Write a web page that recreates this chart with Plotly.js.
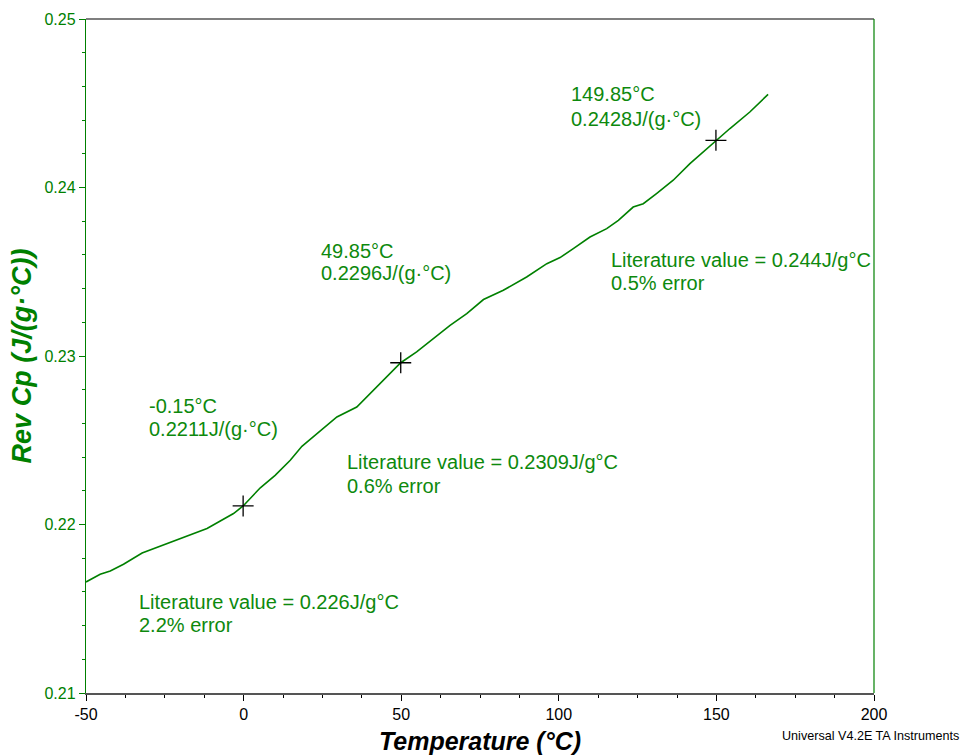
<!DOCTYPE html>
<html>
<head>
<meta charset="utf-8">
<script src="https://cdn.plot.ly/plotly-3.0.1.min.js"></script>
<style>html,body{margin:0;padding:0;background:#fff;}#chart{width:961px;height:755px;}</style>
</head>
<body>
<div id="chart"></div>
<script>
// Reversing heat capacity curve
const tempC = [-50, -45.5, -42.3, -38.1, -32.2, -27.5, -23.3, -19.1, -15.9, -11.6, -7.4, -3.2, -0.15,
  5.3, 10.0, 14.8, 18.5, 23.2, 29.6, 35.9, 39.1, 43.3, 49.85, 54.9, 60.2, 65.5, 70.8, 76.1, 82.4,
  89.8, 96.2, 100.4, 104.6, 109.9, 115.2, 118.9, 123.6, 126.8, 131.0, 136.3, 141.6, 145.8, 149.85,
  154.3, 160.6, 166.4];
const revCp = [0.21659, 0.21705, 0.21724, 0.21764, 0.21831, 0.21863, 0.21896, 0.21922, 0.21946, 0.21976, 0.22021, 0.22065, 0.2211,
  0.22218, 0.22292, 0.22381, 0.22464, 0.22539, 0.22638, 0.22697, 0.22757, 0.22836, 0.2296, 0.23024, 0.23103, 0.23182, 0.23252, 0.23335, 0.23390,
  0.23469, 0.23548, 0.23584, 0.23637, 0.23706, 0.23756, 0.23805, 0.23884, 0.23904, 0.23964, 0.24043, 0.24142, 0.24211, 0.2428,
  0.24350, 0.24448, 0.24553];

// Analysis points
const markT = [-0.15, 49.85, 149.85];
const markCp = [0.2211, 0.2296, 0.2428];

// Tick labels
const xTickVals = [-50, 0, 50, 100, 150, 200];
const xTickText = ["-50", "0", "50", "100", "150", "200"];

// Annotation texts
const pointLabels = ["-0.15°C", "0.2211J/(g·°C)", "49.85°C", "0.2296J/(g·°C)", "149.85°C", "0.2428J/(g·°C)"];
const litLabels = ["Literature value = 0.226J/g°C", "2.2% error",
                   "Literature value = 0.2309J/g°C", "0.6% error",
                   "Literature value = 0.244J/g°C", "0.5% error"];

const GREEN = '#008000';
const TXT = '#0d890d';

// annotation anchor positions (layout only)
const pos = [
  [-30.5, 0.22704], [-30.5, 0.22568],
  [23.8, 0.23626], [23.8, 0.23493],
  [103.3, 0.24555], [103.3, 0.24407]
];
const litPos = [
  [-33.8, 0.21540], [-33.8, 0.21402],
  [32.3, 0.22368], [32.3, 0.22226],
  [116.0, 0.23570], [116.0, 0.23433]
];

const annotations = [];
pointLabels.forEach((t, i) => annotations.push({
  x: pos[i][0], y: pos[i][1], xref: 'x', yref: 'y', text: t, showarrow: false,
  xanchor: 'left', yanchor: 'middle', font: {family: 'Liberation Sans, Arial', size: 20, color: TXT}
}));
litLabels.forEach((t, i) => annotations.push({
  x: litPos[i][0], y: litPos[i][1], xref: 'x', yref: 'y', text: t, showarrow: false,
  xanchor: 'left', yanchor: 'middle', font: {family: 'Liberation Sans, Arial', size: 20, color: TXT}
}));
annotations.push({
  x: 1.1105, y: -0.0638, xref: 'paper', yref: 'paper', text: 'Universal V4.2E TA Instruments',
  showarrow: false, xanchor: 'right', yanchor: 'middle',
  font: {family: 'Liberation Sans, Arial', size: 12.6, color: '#000'}
});

const traces = [
  {x: tempC, y: revCp, type: 'scatter', mode: 'lines', line: {color: GREEN, width: 1.6}, hoverinfo: 'skip'},
  {x: markT, y: markCp, type: 'scatter', mode: 'markers',
   marker: {symbol: 'cross-thin', size: 15, color: '#000', line: {color: '#000', width: 1.3}}}
];

const layout = {
  width: 961, height: 755,
  margin: {l: 86, r: 87, t: 19, b: 62},
  paper_bgcolor: '#fff', plot_bgcolor: '#fff',
  showlegend: false,
  font: {family: 'Liberation Sans, Arial'},
  xaxis: {
    range: [-50, 200], tickmode: 'array', tickvals: xTickVals, ticktext: xTickText,
    showgrid: false, zeroline: false,
    showline: true, linecolor: '#555', linewidth: 1.5,
    ticks: 'outside', ticklen: 6, tickcolor: '#000', tickwidth: 1,
    tickfont: {size: 16, color: '#000'},
    minor: {dtick: 12.5, tick0: 0, ticks: 'outside', ticklen: 3, tickcolor: '#000', showgrid: false},
    title: {text: 'Temperature (°C)', standoff: 13,
            font: {size: 25, color: '#000', weight: 'bold', style: 'italic'}}
  },
  yaxis: {
    range: [0.21, 0.25], dtick: 0.01, tick0: 0.21, showgrid: false, zeroline: false,
    showline: true, linecolor: GREEN, linewidth: 1.2,
    ticks: 'outside', ticklen: 6, tickcolor: GREEN, tickwidth: 1,
    tickfont: {size: 16, color: GREEN}, tickformat: '.2f',
    minor: {dtick: 0.002, ticks: 'outside', ticklen: 3, tickcolor: GREEN, showgrid: false},
    title: {text: 'Rev Cp (J/(g·°C))', standoff: 5,
            font: {size: 27, color: GREEN, weight: 'bold', style: 'italic'}}
  },
  shapes: [
    {type: 'line', xref: 'paper', yref: 'paper', x0: 0, x1: 1, y0: 1, y1: 1, line: {color: '#555', width: 1.5}},
    {type: 'line', xref: 'paper', yref: 'paper', x0: 1, x1: 1, y0: 0, y1: 1, line: {color: GREEN, width: 1.2}}
  ],
  annotations: annotations
};

Plotly.newPlot('chart', traces, layout, {displayModeBar: false, staticPlot: true});
</script>
</body>
</html>
